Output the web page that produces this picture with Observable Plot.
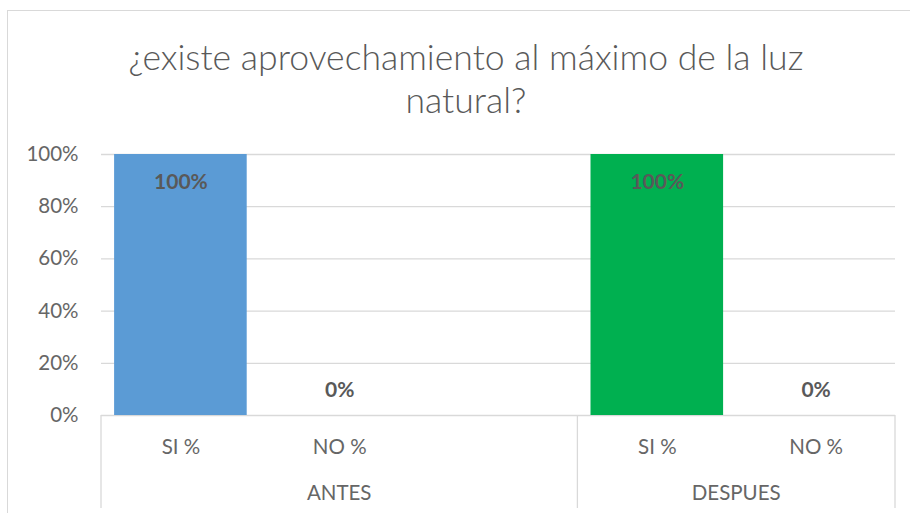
<!DOCTYPE html>
<html><head><meta charset="utf-8">
<script src="https://cdn.jsdelivr.net/npm/d3@7"></script>
<script src="https://cdn.jsdelivr.net/npm/@observablehq/plot@0.6"></script>
<style>
body{margin:0;background:#fff;font-family:Lato,sans-serif}
#wrap{position:relative;width:910px;height:513px;overflow:hidden;background:#fff}
#frame{position:absolute;left:7px;top:10px;width:960px;height:560px;border:1px solid #d9d9d9;box-sizing:border-box}
#title{position:absolute;left:7px;top:35px;width:918px;text-align:center;font-size:35.6px;line-height:43px;color:#595959;font-family:Lato,sans-serif;font-weight:300}
#chart{position:absolute;left:0;top:130px}
</style></head>
<body>
<div id="wrap">
  <div id="frame"></div>
  <div id="title">¿existe aprovechamiento al máximo de la luz<br>natural?</div>
  <div id="chart"></div>
</div>
<script>
const groups = ["ANTES", "ANTES", "ANTES", "DESPUES", "DESPUES"];
const categories = ["SI %", "NO %", "", "SI %", "NO %"];
const values = [1, 0, null, 1, 0];
const groupNames = ["ANTES", "DESPUES"];
const groupColors = ["#5B9BD5", "#00B050"];
const yTicks = [0, 0.2, 0.4, 0.6, 0.8, 1];

const rows = values.map((v, i) => ({key: i, group: groups[i], category: categories[i], value: v}));
const bars = rows.filter(d => d.value != null);
const fmt = d3.format(".0%");

function groupAxis(...args) {
  const scales = args.length >= 4 ? args[1] : args[0];
  const dims = args.length >= 4 ? args[3] : args[1];
  const x = scales.x;
  const desc = scales.scales && scales.scales.x;
  let bw = desc && desc.bandwidth != null ? desc.bandwidth : (typeof x.bandwidth === "function" ? x.bandwidth() : x.bandwidth);
  const step = x(1) - x(0);
  const center = k => x(k) + bw / 2;
  const y0 = dims.height - dims.marginBottom;
  const g = d3.create("svg:g");
  const edges = new Set();
  const spans = groupNames.map(name => {
    const ks = rows.filter(r => r.group === name).map(r => r.key);
    const l = center(d3.min(ks)) - step / 2, r = center(d3.max(ks)) + step / 2;
    edges.add(Math.round(l * 10) / 10); edges.add(Math.round(r * 10) / 10);
    return {name, l, r};
  });
  for (const e of edges) {
    g.append("line").attr("x1", e).attr("x2", e).attr("y1", y0).attr("y2", y0 + 93)
      .attr("stroke", "#d9d9d9").attr("stroke-width", 1.3);
  }
  for (const s of spans) {
    g.append("text").attr("x", (s.l + s.r) / 2).attr("y", y0 + 78)
      .attr("text-anchor", "middle").attr("dy", "0.35em")
      .attr("fill", "#666").attr("font-size", 20.5).text(s.name);
  }
  return g.node();
}

const chart = Plot.plot({
  width: 910,
  height: 383,
  marginTop: 24,
  marginBottom: 98,
  marginLeft: 101,
  marginRight: 15,
  style: {fontFamily: "Lato, sans-serif", fontSize: "20.5px", color: "#666", background: "transparent", overflow: "visible"},
  x: {domain: rows.map(d => d.key), paddingInner: 0.165, paddingOuter: 0.0825, round: false, axis: null},
  y: {domain: [0, 1], axis: null},
  color: {domain: groupNames, range: groupColors},
  marks: [
    Plot.gridY(yTicks, {stroke: "#d9d9d9", strokeOpacity: 1, strokeWidth: 1.3}),
    Plot.axisY(yTicks, {tickSize: 0, tickPadding: 23, tickFormat: fmt, fontSize: 20.5, fill: "#666", label: null}),
    Plot.barY(bars, {x: "key", y: "value", fill: "group"}),
    Plot.text(bars.filter(d => d.value > 0), {x: "key", y: "value", text: d => fmt(d.value), dy: 28, fontWeight: "bold", fontSize: 21, fill: "#595959"}),
    Plot.text(bars.filter(d => d.value === 0), {x: "key", y: "value", text: d => fmt(d.value), dy: -25, fontWeight: "bold", fontSize: 21, fill: "#595959"}),
    Plot.text(rows, {x: "key", text: "category", frameAnchor: "bottom", lineAnchor: "middle", dy: 32, fontSize: 20.5, fill: "#666"}),
    groupAxis
  ]
});
document.getElementById("chart").appendChild(chart);
</script>
</body></html>
